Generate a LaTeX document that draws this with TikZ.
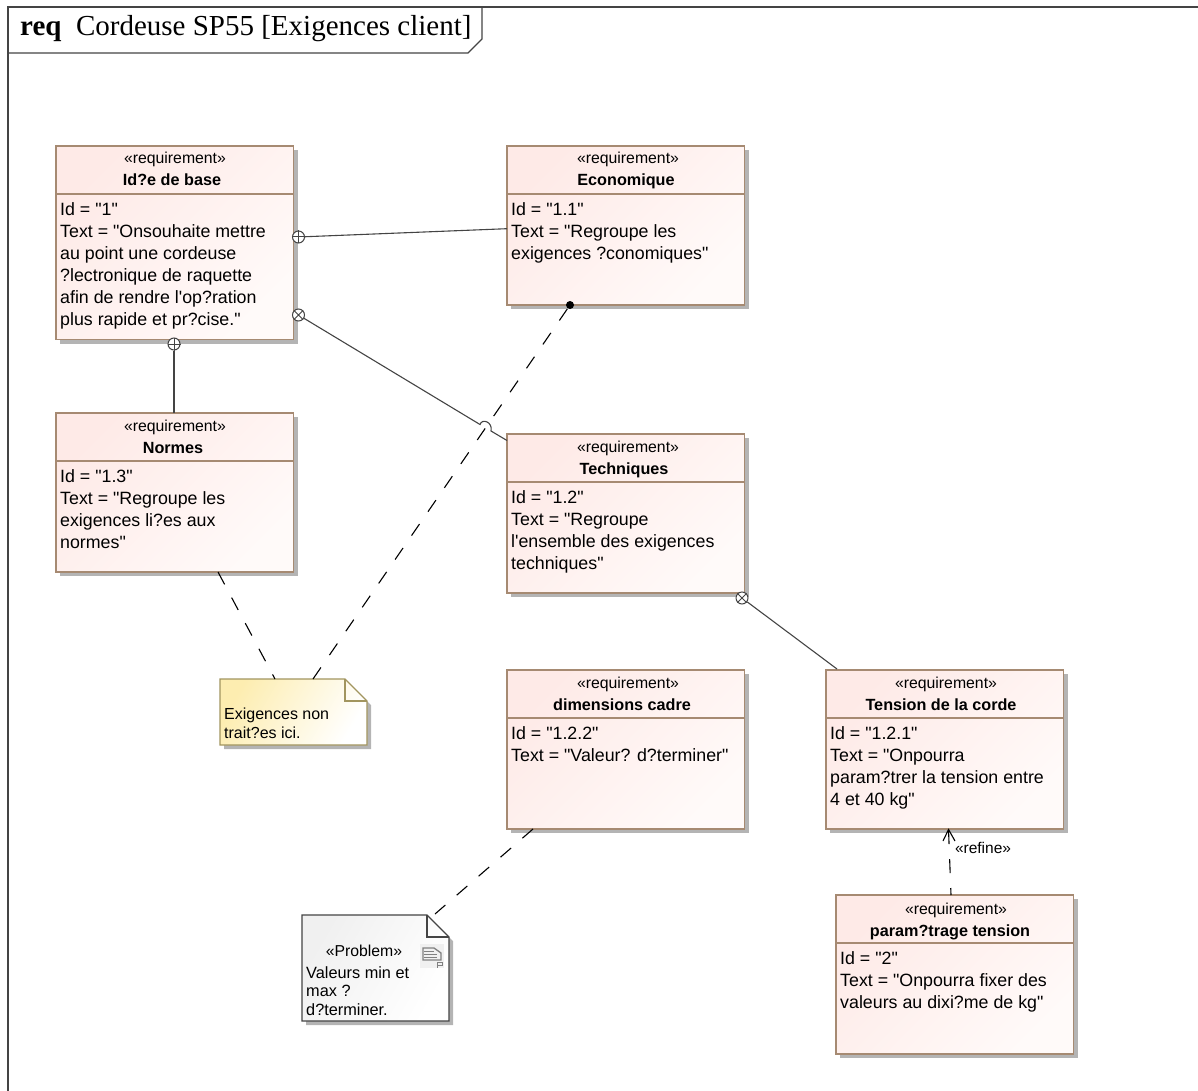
\documentclass[tikz,border=0pt]{standalone}
\usepackage{fontspec}
\setmainfont[Ligatures=TeXOff]{Liberation Sans}
\newfontfamily\titlefont{Liberation Serif}
\usepackage{xcolor}
\usetikzlibrary{calc, shadows}

\definecolor{reqedge}{HTML}{A68A72}
\definecolor{reqpink}{HTML}{FEEAE7}
\definecolor{reqlow}{HTML}{FFFAF9}
\definecolor{noteedge}{HTML}{A2955F}
\definecolor{noteyellow}{HTML}{FDEDB0}
\definecolor{shadowgray}{HTML}{B4B4B4}
\definecolor{linegray}{HTML}{444444}

\tikzset{
  castshadow/.style={drop shadow={shadow xshift=4pt,shadow yshift=-4pt,fill=shadowgray,opacity=1}},
  reqbox/.style={draw=reqedge,line width=1.6pt,anchor=north west,minimum width=237.5pt,minimum height=159pt,
    inner sep=0pt,outer sep=0pt,castshadow,top color=reqpink,bottom color=reqlow,shading angle=45},
  reqline/.style={draw=reqedge,line width=1.4pt},
  stereo/.style={font=\fontsize{15.8}{18}\selectfont,inner sep=0pt,anchor=base},
  reqname/.style={font=\fontsize{16.2}{18}\selectfont\bfseries,inner sep=0pt,anchor=base},
  reqbody/.style={font=\fontsize{17.8}{22}\selectfont,anchor=north west,align=left,inner sep=0pt},
  assoc/.style={draw=linegray,line width=1.1pt},
  trace/.style={draw=black,line width=1.1pt,dash pattern=on 14pt off 15pt},
  contmark/.style={circle,draw=linegray,fill=white,line width=1pt,minimum size=12pt,inner sep=0pt},
}

\begin{document}
\begin{tikzpicture}[x=1pt,y=-1pt]
\useasboundingbox (0,0) rectangle (1198,1091);

%%%frame
\draw[linegray,line width=1.3pt] (1198,7)--(8,7)--(8,1091);
\draw[linegray,line width=1.3pt] (8,53)--(468,53)--(482,39)--(482,7);
\node[anchor=west,inner sep=0pt,font=\titlefont\fontsize{29}{32}\selectfont] (frametitle) at (20,29) {\textbf{req}\ \ Cordeuse SP55 [Exigences client]};

%%%idee de base
\node[reqbox,minimum height=193.5pt] (idee) at (56,146) {};
\draw[reqline] ($(idee.north west)+(0,48)$)--($(idee.north east)+(0,48)$);
\node[stereo] (idee_st) at (175,164) {«requirement»};
\node[reqname] (idee_nm) at (172,186) {Id?e de base};
\node[reqbody] (idee_tx) at (60,202.5) {Id = "1"\\Text = "Onsouhaite mettre\\au point une cordeuse\\?lectronique de raquette\\afin de rendre l'op?ration\\plus rapide et pr?cise."};

%%%economique
\node[reqbox] (eco) at (507,146) {};
\draw[reqline] ($(eco.north west)+(0,48)$)--($(eco.north east)+(0,48)$);
\node[stereo] (eco_st) at (628,164) {«requirement»};
\node[reqname] (eco_nm) at (626,186) {Economique};
\node[reqbody] (eco_tx) at (511,202.5) {Id = "1.1"\\Text = "Regroupe les\\exigences ?conomiques"};

%%%normes
\node[reqbox] (normes) at (56,413) {};
\draw[reqline] ($(normes.north west)+(0,48)$)--($(normes.north east)+(0,48)$);
\node[stereo] (normes_st) at (175,431) {«requirement»};
\node[reqname] (normes_nm) at (173,453) {Normes};
\node[reqbody] (normes_tx) at (60,469.5) {Id = "1.3"\\Text = "Regroupe les\\exigences li?es aux\\normes"};

%%%techniques
\node[reqbox] (tech) at (507,434) {};
\draw[reqline] ($(tech.north west)+(0,48)$)--($(tech.north east)+(0,48)$);
\node[stereo] (tech_st) at (628,452) {«requirement»};
\node[reqname] (tech_nm) at (624,474) {Techniques};
\node[reqbody] (tech_tx) at (511,490.5) {Id = "1.2"\\Text = "Regroupe\\l'ensemble des exigences\\techniques"};

%%%dimensions cadre
\node[reqbox] (dim) at (507,670) {};
\draw[reqline] ($(dim.north west)+(0,48)$)--($(dim.north east)+(0,48)$);
\node[stereo] (dim_st) at (628,688) {«requirement»};
\node[reqname] (dim_nm) at (622,710) {dimensions cadre};
\node[reqbody] (dim_tx) at (511,726.5) {Id = "1.2.2"\\Text = "Valeur? d?terminer"};

%%%tension de la corde
\node[reqbox] (tension) at (826,670) {};
\draw[reqline] ($(tension.north west)+(0,48)$)--($(tension.north east)+(0,48)$);
\node[stereo] (tension_st) at (946,688) {«requirement»};
\node[reqname] (tension_nm) at (941,710) {Tension de la corde};
\node[reqbody] (tension_tx) at (830,726.5) {Id = "1.2.1"\\Text = "Onpourra\\param?trer la tension entre\\4 et 40 kg"};

%%%parametrage tension
\node[reqbox] (param) at (836,895) {};
\draw[reqline] ($(param.north west)+(0,48)$)--($(param.north east)+(0,48)$);
\node[stereo] (param_st) at (956,914) {«requirement»};
\node[reqname] (param_nm) at (950,936) {param?trage tension};
\node[reqbody] (param_tx) at (840,951.5) {Id = "2"\\Text = "Onpourra fixer des\\valeurs au dixi?me de kg"};

%%%note
\fill[shadowgray] (224,683)--(349,683)--(371,705)--(371,749)--(224,749)--cycle;
\shade[top color=noteyellow,bottom color=white,shading angle=60] (220,679)--(345,679)--(367,701)--(367,745)--(220,745)--cycle;
\draw[noteedge,line width=1.4pt] (220,679)--(345,679)--(367,701)--(367,745)--(220,745)--cycle;
\draw[noteedge,line width=1.4pt] (345,679)--(345,701)--(367,701);
\node[reqbody,font=\fontsize{16}{19}\selectfont] (note_tx) at (224,708) {Exigences non\\trait?es ici.};

%%%problem
\fill[shadowgray] (306,919)--(431,919)--(453,941)--(453,1025)--(306,1025)--cycle;
\shade[top color=gray!12,bottom color=white,shading angle=60] (302,915)--(427,915)--(449,937)--(449,1021)--(302,1021)--cycle;
\draw[linegray,line width=1.3pt] (302,915)--(427,915)--(449,937)--(449,1021)--(302,1021)--cycle;
\draw[linegray,line width=1.3pt] (427,915)--(427,937)--(449,937);
\node[stereo] (prob_st) at (364,956) {«Problem»};
\node[reqbody,font=\fontsize{16.3}{18.5}\selectfont] (prob_tx) at (306,966) {Valeurs min et\\max ?\\d?terminer.};
%icon
\fill[gray!12] (420,944) rectangle (444,968);
\draw[gray,line width=1.3pt] (423,948)--(434,948)--(441,953)--(441,960)--(423,960)--cycle;
\draw[gray,line width=0.9pt] (424,951)--(434,951) (424,954)--(437,954) (424,957)--(437,957);
\draw[gray,line width=0.9pt] (437,962)--(442,962)--(442,965)--(437,965) (437,962)--(437,968);

%%%containment
\node[contmark] (plus_eco) at (298.5,237) {};
\draw[linegray,line width=1pt] (plus_eco.north)--(plus_eco.south) (plus_eco.west)--(plus_eco.east);
\node[contmark] (cross_tech) at (298.5,315) {};
\draw[linegray,line width=1pt] (cross_tech.north west)--(cross_tech.south east) (cross_tech.north east)--(cross_tech.south west);
\node[contmark] (plus_normes) at (174,344) {};
\draw[linegray,line width=1pt] (plus_normes.north)--(plus_normes.south) (plus_normes.west)--(plus_normes.east);
\node[contmark] (cross_tension) at (742,598) {};
\draw[linegray,line width=1pt] (cross_tension.north west)--(cross_tension.south east) (cross_tension.north east)--(cross_tension.south west);

\coordinate (eco_in) at (507,228.7);
\coordinate (tech_in) at (507,440.5);
\coordinate (tension_in) at (837,669);
\coordinate (hop_a) at (480,424.5);
\coordinate (hop_b) at (491,431);

\draw[assoc] (plus_eco)--(eco_in);
\draw[assoc] (plus_normes)--(normes.north -| plus_normes);
\draw[assoc] (cross_tech)--(hop_a) .. controls (482,418) and (493,422) .. (hop_b)--(tech_in);
\draw[assoc] (cross_tension)--(tension_in);

%%%traces
\coordinate (eco_dot) at (570,305);
\coordinate (note_eco) at (313,679);
\coordinate (note_normes) at (275,679);
\coordinate (normes_out) at (218,572);
\coordinate (dim_out) at (533,829);
\coordinate (prob_in) at (435,914);

\fill[black] (eco_dot) circle (4pt);
\draw[trace] (note_eco)--(eco_dot);
\draw[trace] (normes_out)--(note_normes);
\draw[trace] (dim_out)--(prob_in);

%%%refine
\coordinate (refine_a) at (951,895);
\coordinate (refine_b) at (948.5,829.5);
\draw[trace,dash phase=7pt] (refine_a)--(refine_b);
\draw[black,line width=1.1pt] (943,841)--(refine_b)--(955,841);
\node[stereo,anchor=center,font=\fontsize{15.5}{17}\selectfont] (refine_lb) at (983,848) {«refine»};

\end{tikzpicture}
\end{document}
